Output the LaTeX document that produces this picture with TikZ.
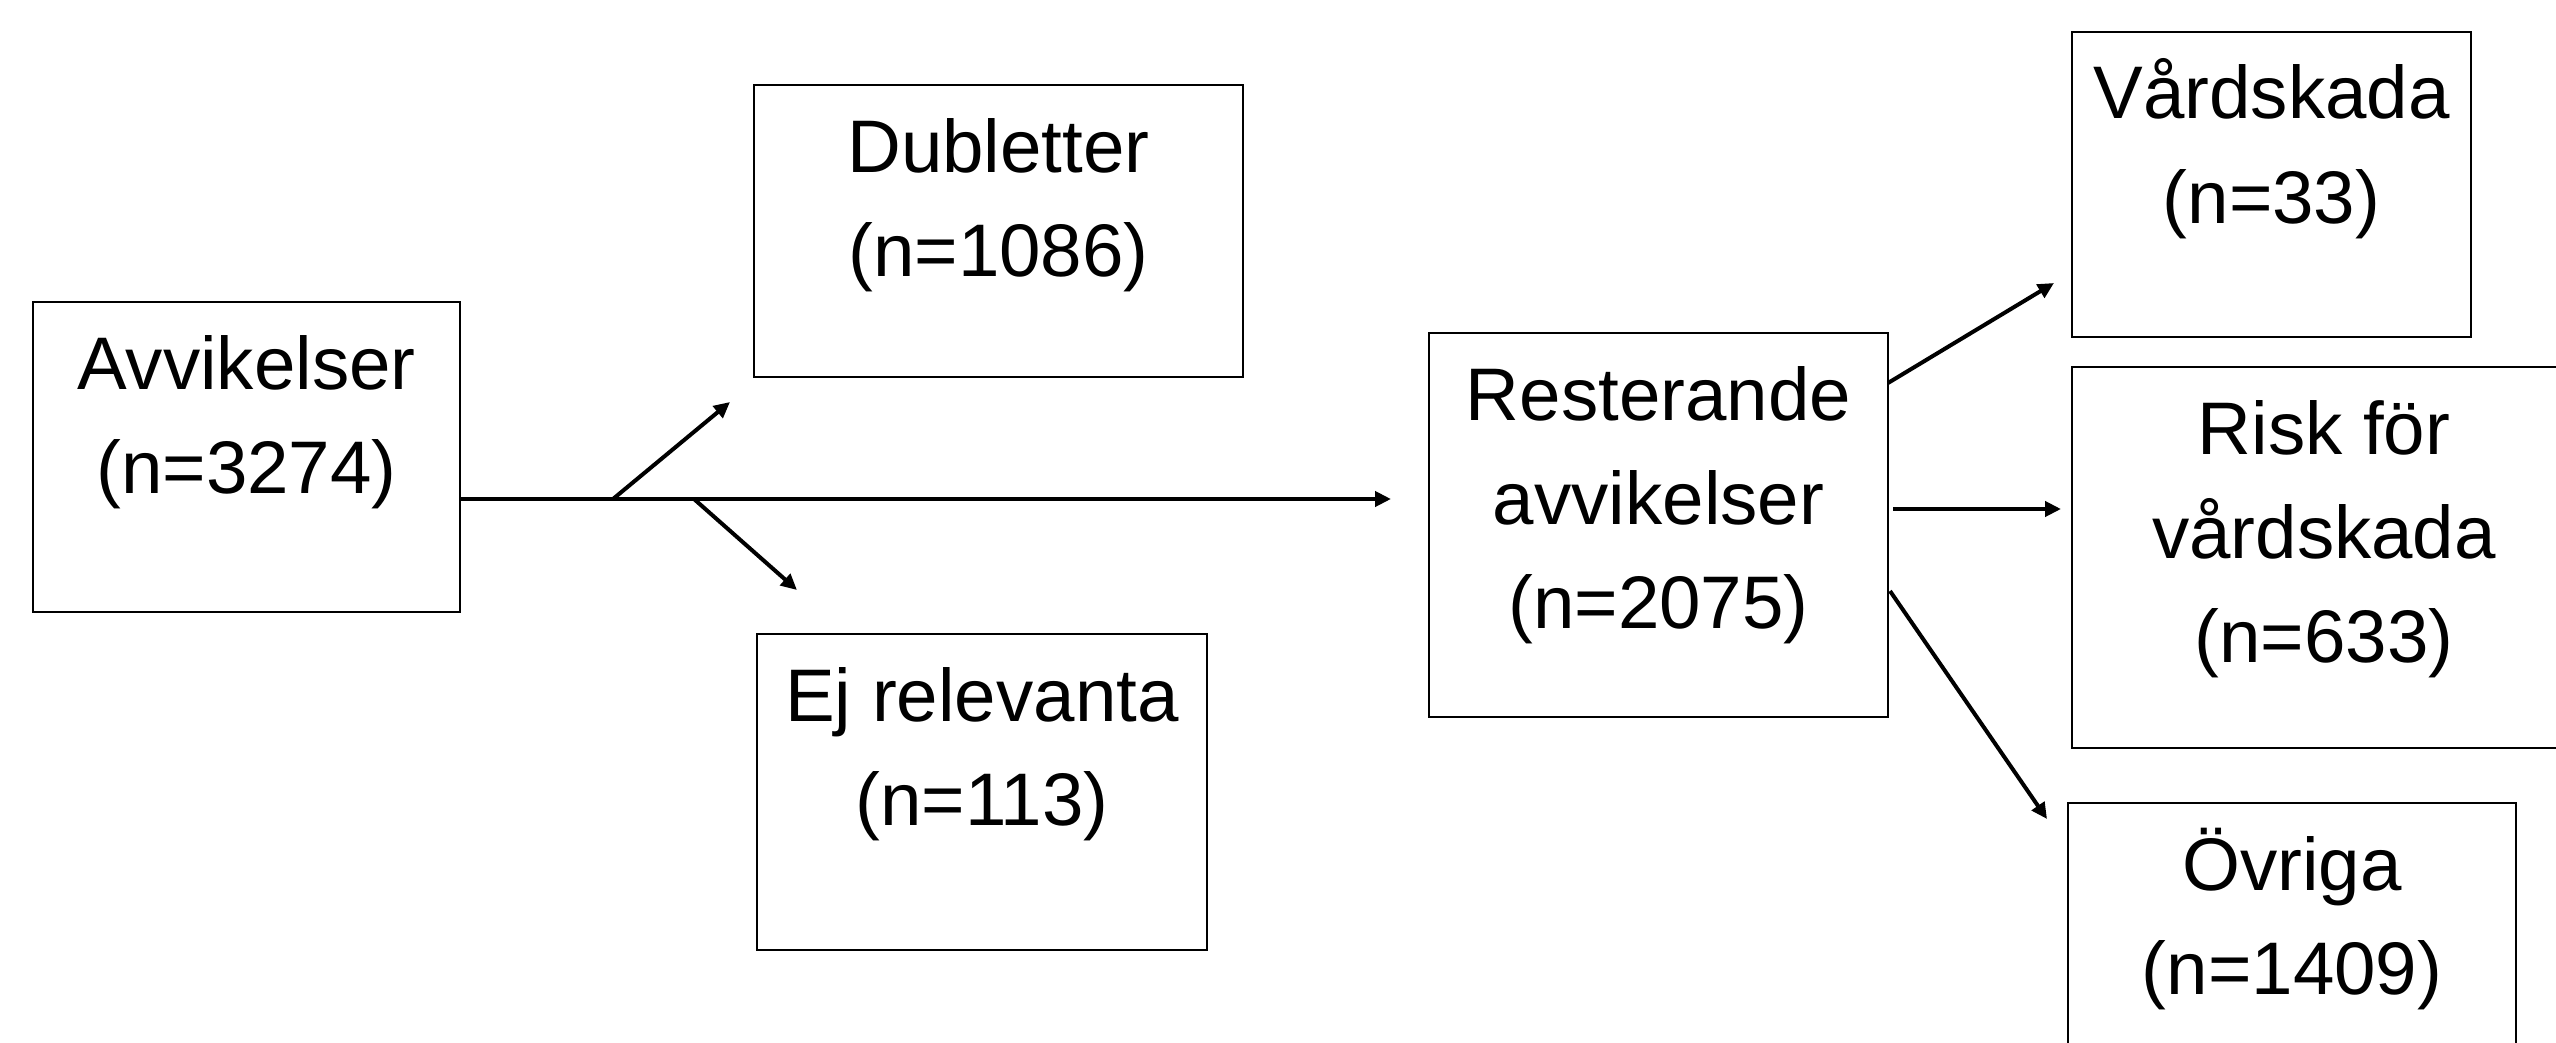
\documentclass[tikz,border=0pt]{standalone}
\usepackage{fontspec}
\setmainfont{Liberation Sans}
\usetikzlibrary{arrows.meta}
% box contents: width, height, lines of text (top-aligned, centred)
\newcommand\boxtext[3]{\parbox[c][#2pt][t]{#1pt}{\fontsize{74.5}{104}\selectfont\centering\rule{0pt}{87pt}#3\par}}
\begin{document}
\begin{tikzpicture}[x=1pt,y=-1pt,
  flowbox/.style={draw=black,line width=2pt,inner sep=0pt,outer sep=0pt,anchor=north west},
  flowarrow/.style={line width=4pt,-{Triangle[length=16pt,width=15pt]}}]
\useasboundingbox (0,0) rectangle (2556,1043);
\clip (0,0) rectangle (2556,1043);

% boxes
\node[flowbox] (A) at (33,302)   {\boxtext{427}{310}{Avvikelser\\(n=3274)}};
\node[flowbox] (D) at (754,85)   {\boxtext{489}{292}{Dubletter\\(n=1086)}};
\node[flowbox] (E) at (757,634)  {\boxtext{450}{316}{Ej relevanta\\(n=113)}};
\node[flowbox] (R) at (1429,333) {\boxtext{459}{384}{Resterande\\avvikelser\\(n=2075)}};
\node[flowbox] (V) at (2072,32)  {\boxtext{399}{305}{Vårdskada\\(n=33)}};
\node[flowbox] (K) at (2072,367) {\boxtext{504}{381}{Risk för\\vårdskada\\(n=633)}};
\node[flowbox] (O) at (2068,803) {\boxtext{448}{310}{Övriga\\(n=1409)}};

% free arrow ends
\coordinate (mtip) at (1391,499);
\coordinate (t1) at (730,402);
\coordinate (t2) at (797,590);
\coordinate (vtip) at (2054,283);
\coordinate (ktip) at (2061,509);
\coordinate (otip) at (2047,819);

% main flow with the two side branches
\draw[flowarrow] ([yshift=-42pt]A.east) -- (mtip);
\draw[flowarrow] ([shift={(153pt,-42pt)}]A.east) -- (t1);
\draw[flowarrow] ([shift={(234pt,-42pt)}]A.east) -- (t2);

% split of the remaining reports
\draw[flowarrow] ([yshift=142pt]R.east) -- (vtip);
\draw[flowarrow] ([shift={(5pt,16pt)}]R.east) -- (ktip);
\draw[flowarrow] ([shift={(2pt,-66pt)}]R.east) -- (otip);
\end{tikzpicture}
\end{document}
